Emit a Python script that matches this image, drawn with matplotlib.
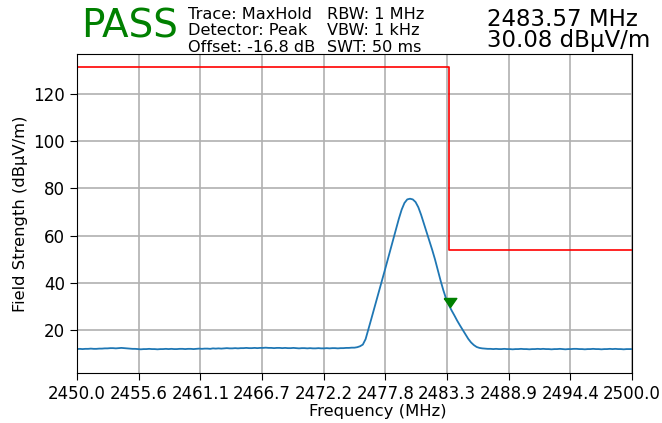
import numpy as np
import matplotlib
matplotlib.use('Agg')
import matplotlib.pyplot as plt

# sweep: 2450 - 2500 MHz, 0.25 MHz per point (201 points)
floor_left = [
    12.1, 12.2, 12.1, 12.2, 12.2, 12.3, 12.2, 12.2, 12.3, 12.3,
    12.4, 12.4, 12.5, 12.5, 12.4, 12.5, 12.6, 12.5, 12.4, 12.3,
    12.2, 12.2, 12.1, 12.0, 12.1, 12.1, 12.2, 12.1, 12.1, 12.0,
    12.1, 12.1, 12.2, 12.1, 12.2, 12.1, 12.1, 12.2, 12.2, 12.1,
    12.2, 12.2, 12.1, 12.2, 12.3, 12.2, 12.3, 12.3, 12.2, 12.4,
    12.3, 12.4, 12.3, 12.4, 12.5, 12.4, 12.4, 12.5, 12.4, 12.5,
    12.5, 12.6, 12.5, 12.5, 12.6, 12.5, 12.6, 12.6, 12.7, 12.6,
    12.6, 12.5, 12.6, 12.6, 12.5, 12.6, 12.5, 12.5, 12.6, 12.5,
    12.4, 12.5, 12.5, 12.4, 12.5, 12.4, 12.4, 12.5, 12.4, 12.4,
    12.5, 12.4, 12.5, 12.5, 12.4, 12.5, 12.5, 12.6, 12.6, 12.7,
    12.7, 12.9, 13.3, 14.0,
]
carrier = [
    16.3, 20.4, 24.6, 28.8, 33.0, 37.2, 41.4, 45.7, 50.0, 54.4,
    58.7, 63.0, 67.2, 71.0, 73.8, 75.3, 75.6, 75.3, 74.2, 72.0,
    68.8, 65.1, 61.5, 57.8, 54.0, 50.0, 45.6, 41.1, 37.0, 33.4,
    30.7, 28.4, 26.3, 24.1, 22.1, 20.2, 18.3, 16.4, 14.9, 13.8,
    13.0,
]
floor_right = [
    12.6, 12.4, 12.3, 12.2, 12.2, 12.1, 12.2, 12.1, 12.1, 12.2,
    12.1, 12.1, 12.0, 12.1, 12.1, 12.2, 12.1, 12.1, 12.0, 12.1,
    12.1, 12.2, 12.1, 12.2, 12.1, 12.1, 12.0, 12.1, 12.1, 12.2,
    12.1, 12.0, 12.1, 12.1, 12.2, 12.2, 12.1, 12.1, 12.0, 12.1,
    12.1, 12.2, 12.1, 12.1, 12.0, 12.1, 12.1, 12.2, 12.1, 12.2,
    12.1, 12.1, 12.0, 12.1, 12.1, 12.1,
]
level = np.array(floor_left + carrier + floor_right)
freq = np.linspace(2450.0, 2500.0, len(level))

# limit mask
limit_freq = [2450.0, 2483.5, 2483.5, 2500.0]
limit_level = [131.3, 131.3, 54.0, 54.0]

# marker
mk_freq = 2483.57
mk_level = 30.08

xticks = [2450.0, 2455.6, 2461.1, 2466.7, 2472.2, 2477.8, 2483.3, 2488.9, 2494.4, 2500.0]
yticks = [20, 40, 60, 80, 100, 120]

fig = plt.figure(figsize=(6.62, 4.23), dpi=100)
ax = fig.add_axes([0.1163, 0.1182, 0.8384, 0.7541])

ax.plot(freq, level, color='#1f77b4', lw=1.3)
ax.plot(limit_freq, limit_level, color='red', lw=1.2)
# down-pointing triangle with its tip on the marker point
tri = [(-0.7, 1.0), (0.7, 1.0), (0.0, 0.0), (-0.7, 1.0)]
ax.plot([mk_freq], [mk_level], marker=tri, color='green', ms=13, ls='none')

ax.set_xlim(2450, 2500)
ax.set_ylim(2.0, 136.7)
ax.set_xticks(np.linspace(2450, 2500, 10))
ax.set_xticklabels(['%.1f' % t for t in xticks])
ax.set_yticks(yticks)
ax.tick_params(labelsize=12, length=5)
ax.grid(True, color='#b0b0b0', lw=1.2)
ax.set_axisbelow(True)

ax.set_xlabel('Frequency (MHz)', fontsize=11.8)
ax.xaxis.set_label_coords(0.542, -0.097)
ax.set_ylabel('Field Strength (dBµV/m)', fontsize=11.8, labelpad=4)

fig.text(0.122, 0.9125, 'PASS', color='green', fontsize=28, va='baseline', ha='left')
fig.text(0.284, 0.956, 'Trace: MaxHold', fontsize=11.6, va='baseline')
fig.text(0.284, 0.917, 'Detector: Peak', fontsize=11.6, va='baseline')
fig.text(0.284, 0.878, 'Offset: -16.8 dB', fontsize=11.6, va='baseline')
fig.text(0.494, 0.956, 'RBW: 1 MHz', fontsize=11.6, va='baseline')
fig.text(0.494, 0.917, 'VBW: 1 kHz', fontsize=11.6, va='baseline')
fig.text(0.494, 0.878, 'SWT: 50 ms', fontsize=11.6, va='baseline')
fig.text(0.735, 0.938, '%.2f MHz' % mk_freq, fontsize=16.5, va='baseline')
fig.text(0.735, 0.890, '%.2f dBµV/m' % mk_level, fontsize=16.5, va='baseline')

fig.savefig('out.png', dpi=100)
